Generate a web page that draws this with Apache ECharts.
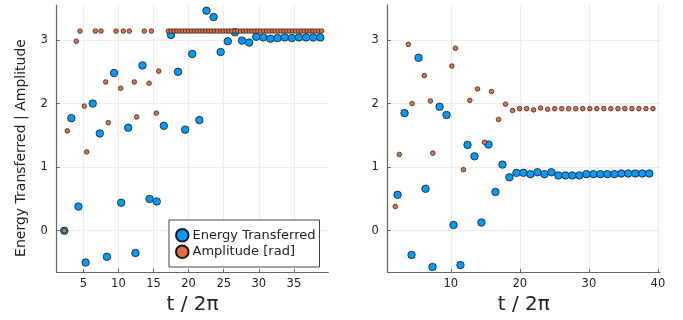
<!DOCTYPE html>
<html>
<head>
<meta charset="utf-8">
<script src="https://cdn.jsdelivr.net/npm/echarts@6/dist/echarts.min.js"></script>
<style>html,body{margin:0;padding:0;background:#fff}#c{width:683px;height:320px}</style>
</head>
<body>
<div id="c"></div>
<script>
// ---- data ----
const tEnergy = [2.29, 3.30, 4.31, 5.33, 6.34, 7.35, 8.37, 9.38, 10.39, 11.40, 12.42, 13.43, 14.44, 15.46, 16.47, 17.48, 18.49, 19.51, 20.52, 21.53, 22.55, 23.56, 24.57, 25.58, 26.60, 27.61, 28.62, 29.64, 30.65, 31.66, 32.67, 33.69, 34.70, 35.71, 36.73, 37.74, 38.75];
const energyLeft = [0.00, 1.77, 0.38, -0.50, 2.00, 1.53, -0.41, 2.48, 0.44, 1.62, -0.35, 2.60, 0.50, 0.46, 1.65, 3.08, 2.50, 1.59, 2.78, 1.74, 3.46, 3.36, 2.81, 2.98, 3.12, 2.99, 2.96, 3.05, 3.04, 3.02, 3.03, 3.04, 3.03, 3.04, 3.04, 3.04, 3.04];
const energyRight = [0.565, 1.85, -0.38, 2.72, 0.66, -0.57, 1.95, 1.82, 0.09, -0.54, 1.35, 1.17, 0.13, 1.355, 0.61, 1.04, 0.84, 0.91, 0.91, 0.89, 0.92, 0.89, 0.92, 0.87, 0.87, 0.87, 0.87, 0.89, 0.89, 0.89, 0.89, 0.89, 0.90, 0.90, 0.90, 0.90, 0.90];

const tAmpLeft = [2.29, 2.72, 4.00, 4.53, 5.14, 5.48, 6.71, 7.52, 8.19, 8.56, 9.66, 10.33, 10.70, 11.55, 12.26, 12.61, 13.69, 14.37, 14.69, 15.40, 15.74,
  17.11, 17.52, 17.93, 18.35, 18.76, 19.17, 19.58, 19.99, 20.41, 20.82, 21.23, 21.64, 22.05, 22.47, 22.88, 23.29, 23.70, 24.11, 24.53, 24.94, 25.35, 25.76, 26.17, 26.59, 27.00, 27.41, 27.82, 28.23, 28.65, 29.06, 29.47, 29.88, 30.29, 30.71, 31.12, 31.53, 31.94, 32.35, 32.77, 33.18, 33.59, 34.00, 34.41, 34.83, 35.24, 35.65, 36.06, 36.47, 36.89, 37.30, 37.71, 38.12, 38.53, 38.95];
const ampLeft = [0.00, 1.57, 2.98, 3.14, 1.96, 1.24, 3.14, 3.14, 2.34, 1.70, 3.14, 2.24, 3.14, 3.14, 2.34, 1.79, 3.14, 2.32, 3.14, 1.85, 2.51,
  3.14, 3.14, 3.14, 3.14, 3.14, 3.14, 3.14, 3.14, 3.14, 3.14, 3.14, 3.14, 3.14, 3.14, 3.14, 3.14, 3.14, 3.14, 3.14, 3.14, 3.14, 3.14, 3.14, 3.14, 3.14, 3.14, 3.14, 3.14, 3.14, 3.14, 3.14, 3.14, 3.14, 3.14, 3.14, 3.14, 3.14, 3.14, 3.14, 3.14, 3.14, 3.14, 3.14, 3.14, 3.14, 3.14, 3.14, 3.14, 3.14, 3.14, 3.14, 3.14, 3.14, 3.14];

const tAmpRight = [1.96, 2.54, 3.85, 4.39, 6.17, 7.04, 7.39, 10.15, 10.67, 11.83, 12.76, 13.87, 14.88, 15.90, 16.92,
  17.93, 18.95, 19.96, 20.98, 21.99, 23.01, 24.03, 25.05, 26.06, 27.08, 28.10, 29.11, 30.13, 31.15, 32.16, 33.18, 34.20, 35.21, 36.23, 37.25, 38.26, 39.28];
const ampRight = [0.38, 1.20, 2.93, 2.00, 2.44, 2.04, 1.22, 2.59, 2.87, 0.96, 2.05, 2.23, 1.39, 2.19, 1.75,
  1.99, 1.89, 1.92, 1.92, 1.90, 1.93, 1.91, 1.92, 1.92, 1.92, 1.92, 1.92, 1.92, 1.92, 1.92, 1.92, 1.92, 1.92, 1.92, 1.92, 1.92, 1.92];

const xTicksLeft = [5, 10, 15, 20, 25, 30, 35];
const xTicksRight = [10, 20, 30, 40];
const yTicks = [0, 1, 2, 3];
const seriesNames = ['Energy Transferred', 'Amplitude [rad]'];
const xTitle = 't / 2π';
const yTitle = 'Energy Transferred | Amplitude';

// ---- chart ----
const BLUE = '#009AFA', ORANGE = '#E26F46';
const FONT = 'DejaVu Sans';
const zip = (xs, ys) => xs.map((x, i) => [x, ys[i]]);

function xAxis(gridIndex, min, max, ticks) {
  return {
    type: 'value', gridIndex, min, max,
    name: xTitle, nameLocation: 'middle', nameGap: 23,
    nameTextStyle: { fontFamily: FONT, fontSize: 20, color: '#222' },
    axisLine: { show: true, onZero: false, lineStyle: { color: '#666', width: 1.2 } },
    axisTick: { show: true, inside: true, length: 3, customValues: ticks, lineStyle: { color: '#666' } },
    axisLabel: { customValues: ticks, fontFamily: FONT, fontSize: 11.5, color: '#222', margin: 6 },
    splitLine: { show: true, lineStyle: { color: '#ececec', width: 1 } }
  };
}
function yAxis(gridIndex) {
  return {
    type: 'value', gridIndex, min: -0.649, max: 3.55,
    axisLine: { show: true, onZero: false, lineStyle: { color: '#666', width: 1.2 } },
    axisTick: { show: true, inside: true, length: 3, customValues: yTicks, lineStyle: { color: '#666' } },
    axisLabel: { customValues: yTicks, fontFamily: FONT, fontSize: 11.5, color: '#222', margin: 9 },
    splitLine: { show: true, lineStyle: { color: '#ececec', width: 1 } }
  };
}
function scatter(name, idx, data, color, size, bw) {
  return {
    type: 'scatter', name, xAxisIndex: idx, yAxisIndex: idx, data,
    symbol: 'circle', symbolSize: size,
    itemStyle: { color, borderColor: '#1a1a1a', borderWidth: bw, opacity: 1 },
    emphasis: { disabled: true }
  };
}

const chart = echarts.init(document.getElementById('c'), null, { renderer: 'canvas' });
chart.setOption({
  animation: false,
  backgroundColor: '#fff',
  grid: [
    { left: 56.7, top: 5, width: 271.6, height: 267.3 },
    { left: 387.7, top: 5, width: 272.3, height: 267.3 }
  ],
  xAxis: [xAxis(0, 1.21, 39.9, xTicksLeft), xAxis(1, 0.86, 40.3, xTicksRight)],
  yAxis: [yAxis(0), yAxis(1)],
  legend: {
    data: seriesNames,
    orient: 'vertical', left: 169, top: 220,
    padding: [8, 4, 8, 6], itemGap: 2, itemWidth: 12.5, itemHeight: 12.5,
    icon: 'circle',
    borderColor: '#444', borderWidth: 1, borderRadius: 0, backgroundColor: '#fff',
    textStyle: { fontFamily: FONT, fontSize: 13, color: '#222', padding: [0, 0, 0, -1] },
    selectedMode: false
  },
  graphic: [{
    type: 'text', x: 21, y: 148, rotation: Math.PI / 2,
    style: { text: yTitle, font: '14px "DejaVu Sans"', fill: '#222', textAlign: 'center', textVerticalAlign: 'middle' }
  }],
  series: [
    scatter(seriesNames[0], 0, zip(tEnergy, energyLeft), BLUE, 7.5, 0.8),
    scatter(seriesNames[1], 0, zip(tAmpLeft, ampLeft), ORANGE, 4.6, 0.7),
    scatter(seriesNames[0], 1, zip(tEnergy, energyRight), BLUE, 7.5, 0.8),
    scatter(seriesNames[1], 1, zip(tAmpRight, ampRight), ORANGE, 4.6, 0.7)
  ]
});
</script>
</body>
</html>
